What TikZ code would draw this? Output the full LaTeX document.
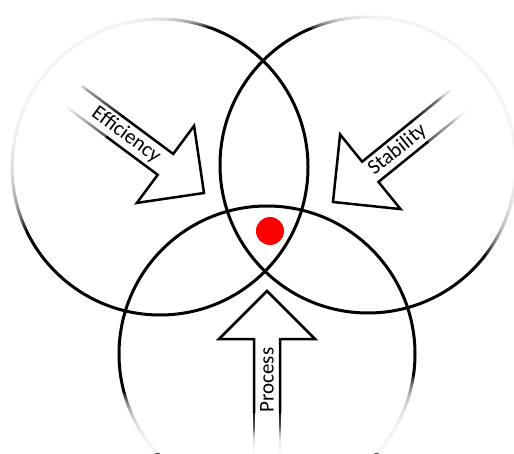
\documentclass[tikz,border=0pt]{standalone}
\usepackage{fontspec}
\setmainfont{Carlito}
\usetikzlibrary{fadings}

\begin{document}
\begin{tikzpicture}[x=1pt, y=1pt,
  ring/.style={line width=3pt},
  blockarrow/.style={line width=2.5pt, line join=miter},
  arrowtext/.style={font=\fontsize{21}{21}\selectfont, inner sep=0pt}]
\useasboundingbox (0,0) rectangle (514,453);
\coordinate (cl) at (160,286);
\coordinate (cr) at (368,288);
\coordinate (cb) at (267,99);
\draw[ring] (cl) circle (148);
\draw[ring] (cr) circle (148);
\draw[ring] (cb) circle (148);
\node[circle, fill=red, minimum size=28pt, inner sep=0pt] (dot) at (270,222) {};

\begin{scope}[shift={(204,260)}, rotate=-36.6]
\fill[white] (-165,13) -- (-48,13) -- (-48,48) -- (0,0) -- (-48,-48) -- (-48,-13) -- (-165,-13) -- cycle;
\draw[blockarrow] (-112,13) -- (-48,13) -- (-48,48) -- (0,0) -- (-48,-48) -- (-48,-13) -- (-112,-13);
\coordinate (e1) at (-110,13); \coordinate (e2) at (-162,13);
\coordinate (e3) at (-110,-13); \coordinate (e4) at (-162,-13);
\node[arrowtext, rotate=-36.6] (eff) at (-97,0) {Efficiency};
\end{scope}
\draw[blockarrow, path fading=west] (e1) -- (e2) (e3) -- (e4);

\begin{scope}[shift={(333,251)}, rotate=219]
\fill[white] (-165,13) -- (-48,13) -- (-48,48) -- (0,0) -- (-48,-48) -- (-48,-13) -- (-165,-13) -- cycle;
\draw[blockarrow] (-112,13) -- (-48,13) -- (-48,48) -- (0,0) -- (-48,-48) -- (-48,-13) -- (-112,-13);
\coordinate (s1) at (-110,13); \coordinate (s2) at (-162,13);
\coordinate (s3) at (-110,-13); \coordinate (s4) at (-162,-13);
\node[arrowtext, rotate=39] (stab) at (-83,0) {Stability};
\end{scope}
\draw[blockarrow, path fading=east] (s1) -- (s2) (s3) -- (s4);

\begin{scope}[shift={(267,162)}, rotate=90]
\fill[white] (-165,13) -- (-48,13) -- (-48,48) -- (0,0) -- (-48,-48) -- (-48,-13) -- (-165,-13) -- cycle;
\draw[blockarrow] (-122,13) -- (-48,13) -- (-48,48) -- (0,0) -- (-48,-48) -- (-48,-13) -- (-122,-13);
\coordinate (p1) at (-120,13); \coordinate (p2) at (-165,13);
\coordinate (p3) at (-120,-13); \coordinate (p4) at (-165,-13);
\node[arrowtext, rotate=90] (proc) at (-89,0) {Process};
\end{scope}
\draw[blockarrow, path fading=south] (p1) -- (p2) (p3) -- (p4);

\foreach \s in {0.90,0.91,...,1.045}
  \fill[white, fill opacity=0.2, even odd rule] (0,0) rectangle (514,453) (257,226.5) ellipse ({257*\s} and {226.5*\s});
\end{tikzpicture}
\end{document}
